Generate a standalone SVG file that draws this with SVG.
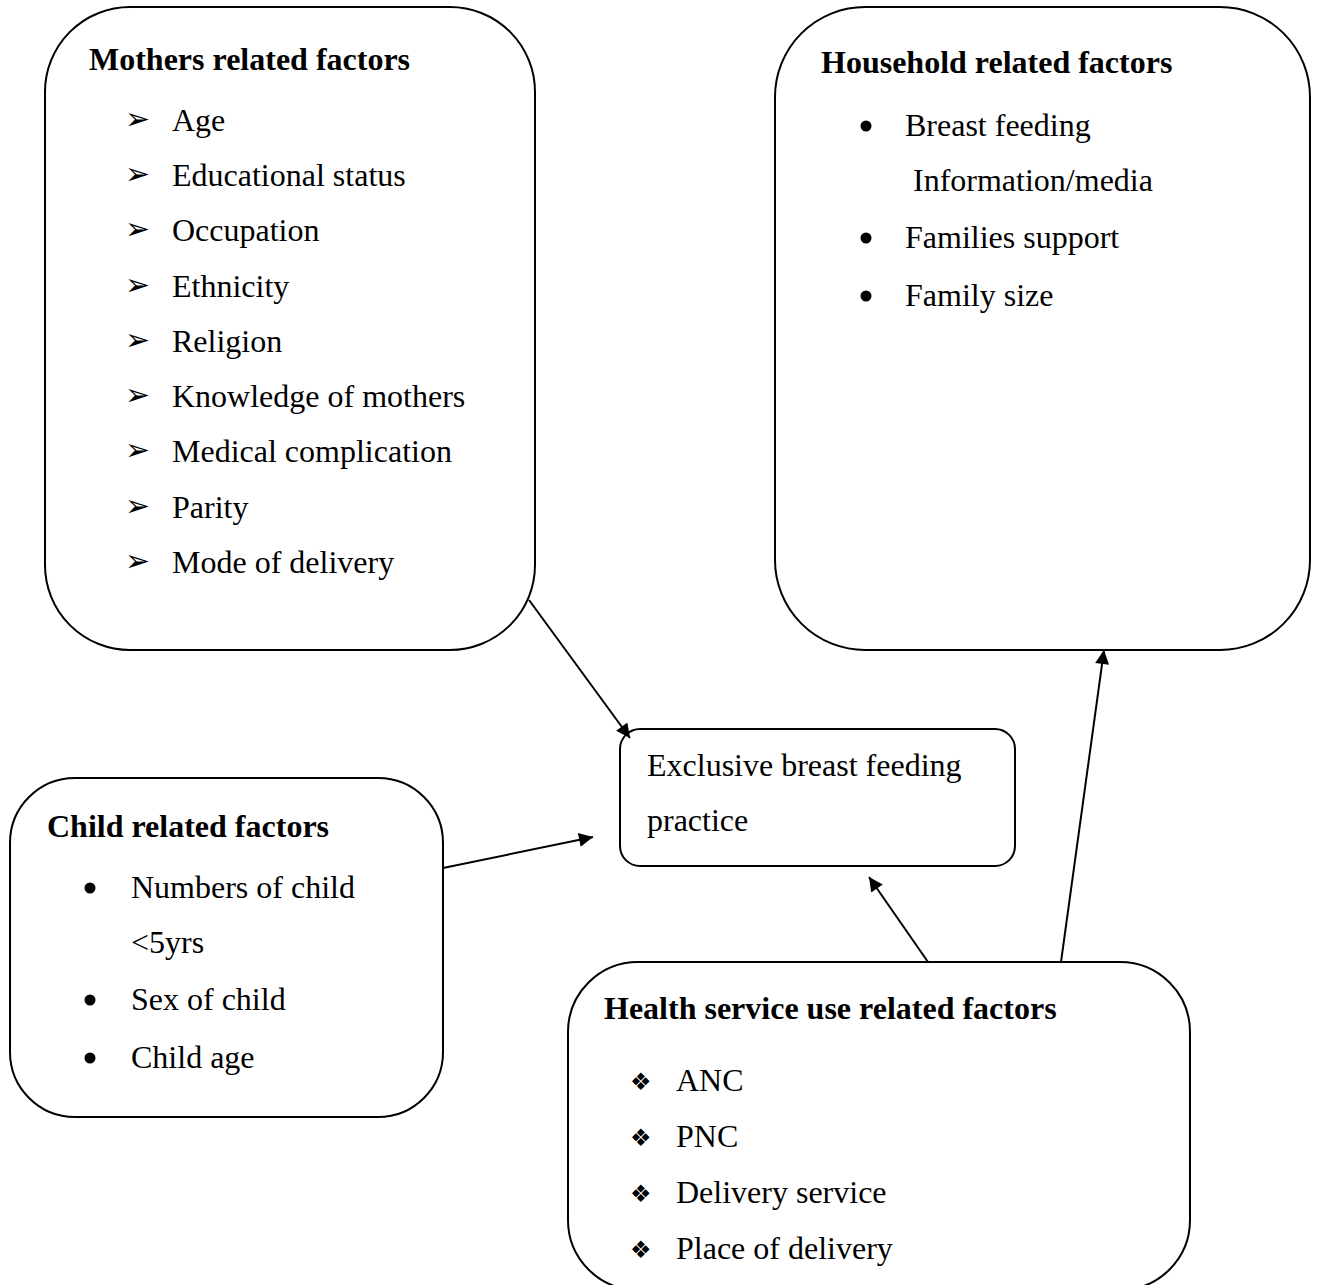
<svg xmlns="http://www.w3.org/2000/svg" width="1317" height="1285" viewBox="0 0 1317 1285">
<style>
.box{fill:#fff;stroke:#000;stroke-width:2}
text{font-family:"Liberation Serif","Times New Roman",serif;font-size:32px;fill:#000}
.t{font-weight:bold}
.sym{font-family:"DejaVu Sans",sans-serif;font-size:30px}
.dia{font-family:"DejaVu Sans",sans-serif;font-size:24px}
.dot{fill:#000}
.con{stroke:#000;stroke-width:2;fill:none;marker-end:url(#ah)}
</style>
<defs>
<marker id="ah" viewBox="0 0 10 10" refX="10" refY="5" markerWidth="16" markerHeight="14" markerUnits="userSpaceOnUse" orient="auto">
<path d="M0,0 L10,5 L0,10 z" fill="#000"/>
</marker>
</defs>
<rect width="1317" height="1285" fill="#fff"/>
<g id="mothers">
<rect class="box" x="45" y="7" width="490" height="643" rx="85" ry="85"/>
<text class="t" x="89" y="70">Mothers related factors</text>
<text class="sym" x="125" y="129">➢</text><text x="172" y="131">Age</text>
<text class="sym" x="125" y="184">➢</text><text x="172" y="186">Educational status</text>
<text class="sym" x="125" y="239">➢</text><text x="172" y="241">Occupation</text>
<text class="sym" x="125" y="295">➢</text><text x="172" y="297">Ethnicity</text>
<text class="sym" x="125" y="350">➢</text><text x="172" y="352">Religion</text>
<text class="sym" x="125" y="405">➢</text><text x="172" y="407">Knowledge of mothers</text>
<text class="sym" x="125" y="460">➢</text><text x="172" y="462">Medical complication</text>
<text class="sym" x="125" y="516">➢</text><text x="172" y="518">Parity</text>
<text class="sym" x="125" y="571">➢</text><text x="172" y="573">Mode of delivery</text>
</g>
<g id="household">
<rect class="box" x="775" y="7" width="535" height="643" rx="90" ry="90"/>
<text class="t" x="821" y="73">Household related factors</text>
<circle class="dot" cx="866" cy="126" r="5.5"/><text x="905" y="136">Breast feeding</text>
<text x="913" y="191">Information/media</text>
<circle class="dot" cx="866" cy="238" r="5.5"/><text x="905" y="248">Families support</text>
<circle class="dot" cx="866" cy="296" r="5.5"/><text x="905" y="306">Family size</text>
</g>
<g id="outcome">
<rect class="box" x="620" y="729" width="395" height="137" rx="20" ry="20"/>
<text x="647" y="776">Exclusive breast feeding</text>
<text x="647" y="831">practice</text>
</g>
<g id="child">
<rect class="box" x="10" y="778" width="433" height="339" rx="65" ry="65"/>
<text class="t" x="47" y="837">Child related factors</text>
<circle class="dot" cx="90" cy="888" r="5.5"/><text x="131" y="898">Numbers of child</text>
<text x="131" y="953">&lt;5yrs</text>
<circle class="dot" cx="90" cy="1000" r="5.5"/><text x="131" y="1010">Sex of child</text>
<circle class="dot" cx="90" cy="1058" r="5.5"/><text x="131" y="1068">Child age</text>
</g>
<g id="health">
<rect class="box" x="568" y="962" width="622" height="328" rx="70" ry="70"/>
<text class="t" x="604" y="1019">Health service use related factors</text>
<text class="dia" x="630" y="1090">❖</text><text x="676" y="1091">ANC</text>
<text class="dia" x="630" y="1146">❖</text><text x="676" y="1147">PNC</text>
<text class="dia" x="630" y="1202">❖</text><text x="676" y="1203">Delivery service</text>
<text class="dia" x="630" y="1258">❖</text><text x="676" y="1259">Place of delivery</text>
</g>
<g id="connectors">
<line class="con" x1="529" y1="600" x2="630" y2="738"/>
<line class="con" x1="443" y1="868" x2="593" y2="837"/>
<line class="con" x1="928" y1="962" x2="869" y2="877"/>
<line class="con" x1="1061" y1="962" x2="1104" y2="650"/>
</g>
</svg>
